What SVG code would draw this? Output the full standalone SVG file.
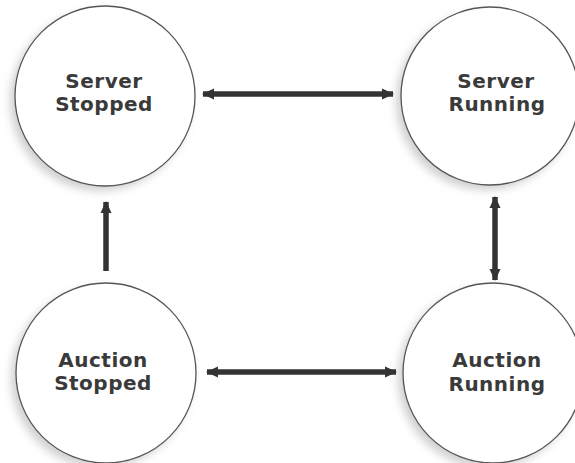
<svg xmlns="http://www.w3.org/2000/svg" width="575" height="463" viewBox="0 0 575 463">
  <style>
    .state circle { fill: #ffffff; stroke: #555555; stroke-width: 1.3; }
    .state .shade { fill: #d0d0d0; stroke: none; filter: url(#soft); }
    .state text { font-family: "DejaVu Sans", Verdana, sans-serif; font-weight: bold; font-size: 20px; letter-spacing: 0.5px; fill: #3a3a3a; text-anchor: middle; }
    .link { stroke: #333333; stroke-width: 5.5; fill: none; }
  </style>
  <defs>
    <filter id="soft" x="-20%" y="-20%" width="140%" height="140%">
      <feGaussianBlur stdDeviation="4"/>
    </filter>
    <marker id="head" markerUnits="userSpaceOnUse" markerWidth="14" markerHeight="14" refX="11" refY="7" orient="auto-start-reverse">
      <path d="M0,1.5 L12,7 L0,12.5 Z" fill="#333333"/>
    </marker>
  </defs>
  <rect width="575" height="463" fill="#ffffff"/>

  <g id="server-stopped" class="state">
    <circle class="shade" cx="100" cy="101" r="90"/>
    <circle cx="105" cy="96" r="90"/>
    <text x="104" y="88">Server</text>
    <text x="104" y="111">Stopped</text>
  </g>

  <g id="server-running" class="state">
    <circle class="shade" cx="485" cy="101" r="89"/>
    <circle cx="490" cy="96" r="89"/>
    <text x="496" y="88">Server</text>
    <text x="497" y="111">Running</text>
  </g>

  <g id="auction-stopped" class="state">
    <circle class="shade" cx="101" cy="378" r="90"/>
    <circle cx="106" cy="373" r="90"/>
    <text x="103" y="367">Auction</text>
    <text x="103" y="390">Stopped</text>
  </g>

  <g id="auction-running" class="state">
    <circle class="shade" cx="488" cy="378" r="90"/>
    <circle cx="493" cy="373" r="90"/>
    <text x="497" y="367">Auction</text>
    <text x="497" y="391">Running</text>
  </g>

  <g id="connectors">
    <line class="link" x1="203" y1="94" x2="393" y2="94" marker-start="url(#head)" marker-end="url(#head)"/>
    <line class="link" x1="207" y1="372" x2="396" y2="372" marker-start="url(#head)" marker-end="url(#head)"/>
    <line class="link" x1="106" y1="271" x2="106" y2="202" marker-end="url(#head)"/>
    <line class="link" x1="495" y1="197" x2="495" y2="280" marker-start="url(#head)" marker-end="url(#head)"/>
  </g>
</svg>
